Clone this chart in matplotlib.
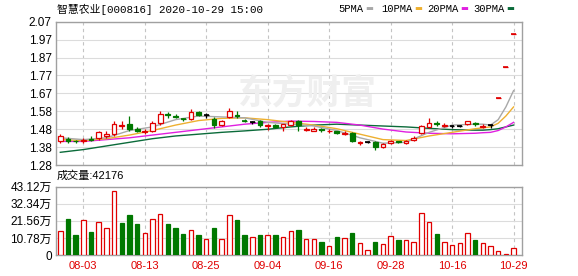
import matplotlib.pyplot as plt
import numpy as np

# fonts: latin first, CJK as fallback
sans = ['Liberation Sans', 'Noto Sans CJK SC']
mono = ['Liberation Mono', 'Noto Sans CJK SC']

# daily candles (price, yuan)
opens = [1.41, 1.425, 1.415, 1.41, 1.425, 1.43, 1.44, 1.45, 1.495, 1.505,
         1.48, 1.46, 1.47, 1.51, 1.56, 1.552, 1.535, 1.535, 1.57, 1.555,
         1.535, 1.50, 1.545, 1.555, 1.527, 1.519, 1.52, 1.495, 1.50, 1.488,
         1.50, 1.525, 1.475, 1.47, 1.48, 1.465, 1.465, 1.45, 1.455, 1.40,
         1.405, 1.405, 1.378, 1.40, 1.41, 1.40, 1.42, 1.455, 1.49, 1.51,
         1.495, 1.495, 1.497, 1.505, 1.51, 1.49, 1.50, 1.65, 1.82, 2.00]
highs = [1.45, 1.435, 1.42, 1.43, 1.44, 1.47, 1.465, 1.52, 1.52, 1.55,
         1.49, 1.48, 1.52, 1.58, 1.57, 1.56, 1.54, 1.59, 1.575, 1.565,
         1.545, 1.53, 1.595, 1.58, 1.535, 1.525, 1.53, 1.505, 1.505, 1.505,
         1.53, 1.53, 1.49, 1.49, 1.485, 1.48, 1.47, 1.465, 1.46, 1.415,
         1.41, 1.41, 1.40, 1.42, 1.415, 1.42, 1.44, 1.50, 1.54, 1.52,
         1.51, 1.50, 1.50, 1.525, 1.515, 1.505, 1.505, 1.65, 1.82, 2.00]
lows = [1.40, 1.40, 1.40, 1.40, 1.41, 1.42, 1.43, 1.44, 1.48, 1.47,
        1.46, 1.45, 1.46, 1.50, 1.54, 1.54, 1.525, 1.53, 1.55, 1.54,
        1.485, 1.495, 1.54, 1.54, 1.515, 1.505, 1.49, 1.475, 1.485, 1.47,
        1.495, 1.47, 1.465, 1.465, 1.462, 1.458, 1.45, 1.445, 1.405, 1.39,
        1.40, 1.365, 1.375, 1.395, 1.40, 1.395, 1.415, 1.45, 1.485, 1.495,
        1.49, 1.485, 1.49, 1.50, 1.495, 1.485, 1.485, 1.65, 1.82, 2.00]
closes = [1.44, 1.41, 1.41, 1.42, 1.42, 1.46, 1.45, 1.505, 1.50, 1.48,
          1.47, 1.47, 1.51, 1.56, 1.553, 1.547, 1.532, 1.572, 1.556, 1.555,
          1.50, 1.52, 1.575, 1.55, 1.524, 1.519, 1.50, 1.50, 1.49, 1.505,
          1.525, 1.50, 1.48, 1.48, 1.472, 1.47, 1.457, 1.455, 1.41, 1.405,
          1.405, 1.38, 1.395, 1.41, 1.405, 1.415, 1.43, 1.495, 1.51, 1.505,
          1.50, 1.495, 1.497, 1.52, 1.505, 1.495, 1.50, 1.65, 1.82, 2.00]

# volume in 万, 1 = red (up) bar, 0 = green
volumes = [15.1, 22.7, 12.6, 22.1, 14.5, 20.8, 16.8, 40.4, 20.4, 25.2,
           19.6, 13.9, 22.5, 25.9, 19.6, 17.0, 13.3, 15.8, 12.6, 10.1,
           17.0, 10.1, 25.2, 22.1, 12.6, 11.4, 12.6, 12.6, 12.6, 11.4,
           15.4, 15.8, 10.3, 10.3, 8.2, 5.7, 11.4, 10.7, 13.9, 7.6,
           3.2, 8.2, 6.9, 11.8, 9.5, 9.5, 8.2, 26.5, 20.8, 13.3,
           8.2, 6.3, 7.6, 13.9, 9.5, 7.6, 5.7, 2.5, 0.4, 4.2176]
vol_up = [1, 0, 0, 1, 0, 1, 1, 1, 0, 0,
          0, 1, 1, 1, 0, 0, 0, 1, 0, 1,
          0, 1, 1, 0, 0, 1, 0, 1, 0, 1,
          1, 0, 1, 1, 0, 1, 0, 1, 0, 1,
          1, 0, 1, 1, 0, 1, 1, 1, 1, 0,
          1, 1, 1, 1, 0, 1, 1, 1, 1, 1]

# moving averages
ma_idx = [0, 3, 6, 9, 12, 15, 18, 21, 24, 27, 30, 33, 36, 39, 42, 45, 48, 51, 54, 55, 56, 57, 58, 59]
ma5 = [1.43, 1.42, 1.43, 1.47, 1.49, 1.53, 1.55, 1.545, 1.54, 1.515, 1.505, 1.495,
       1.47, 1.43, 1.40, 1.405, 1.46, 1.50, 1.505, 1.505, 1.50, 1.53, 1.60, 1.69]
ma10 = [1.42, 1.415, 1.425, 1.445, 1.47, 1.50, 1.525, 1.537, 1.54, 1.53, 1.515, 1.50,
        1.48, 1.45, 1.42, 1.415, 1.44, 1.46, 1.48, 1.485, 1.49, 1.51, 1.55, 1.60]
ma20 = [1.41, 1.41, 1.42, 1.43, 1.445, 1.46, 1.475, 1.49, 1.505, 1.515, 1.522, 1.52,
        1.515, 1.50, 1.478, 1.462, 1.455, 1.452, 1.455, 1.458, 1.46, 1.47, 1.49, 1.515]
ma30 = [1.35, 1.365, 1.385, 1.405, 1.425, 1.44, 1.45, 1.46, 1.468, 1.477, 1.49, 1.50,
        1.505, 1.50, 1.495, 1.49, 1.482, 1.475, 1.472, 1.472, 1.475, 1.48, 1.49, 1.50]

date_idx = [3, 11, 19, 27, 35, 43, 51, 59]
date_labels = ['08-03', '08-13', '08-25', '09-04', '09-16', '09-28', '10-16', '10-29']
price_ticks = ['1.28', '1.38', '1.48', '1.58', '1.67', '1.77', '1.87', '1.97', '2.07']
vol_ticks = ['0', '10.78万', '21.56万', '32.34万', '43.12万']

RED = '#e00000'
GREEN = '#007800'
W, H = 578, 276

fig = plt.figure(figsize=(W / 100, H / 100), dpi=100)
ax = fig.add_axes([56 / W, 1 - 165 / H, 466 / W, 143.3 / H])
axv = fig.add_axes([56 / W, 1 - 255 / H, 466 / W, 68.3 / H])

x = np.arange(len(closes))
o = np.array(opens); c = np.array(closes); h = np.array(highs); l = np.array(lows)

# candle colours
cols = []
for i in range(len(x)):
    if c[i] > o[i]:
        cols.append(RED)
    elif c[i] < o[i]:
        cols.append(GREEN)
    elif h[i] == l[i]:
        cols.append(RED)
    else:
        cols.append('black')

ax.vlines(x, l, h, colors=cols, lw=0.9, zorder=3)
body_w = 0.62
faces = ['white' if col == RED else col for col in cols]
height = np.abs(c - o)
ax.bar(x, np.where(height < 0.004, 0.0, height), bottom=np.minimum(o, c), width=body_w,
       facecolor=faces, edgecolor=cols, lw=0.9, zorder=4)
flat = height < 0.004
ax.hlines(c[flat], x[flat] - body_w / 2, x[flat] + body_w / 2, colors=np.array(cols)[flat], lw=1.2, zorder=4)

ax.plot(ma_idx, ma30, color='#0b6b3a', lw=1.0, zorder=2)
ax.plot(ma_idx, ma20, color='#e020e0', lw=1.0, zorder=2)
ax.plot(ma_idx, ma10, color='#eeb030', lw=1.0, zorder=2)
ax.plot(ma_idx, ma5, color='#a8a8a8', lw=1.0, zorder=2)

# volume bars
vcol = [RED if u else GREEN for u in vol_up]
vface = ['white' if u else GREEN for u in vol_up]
axv.bar(x, volumes, width=0.58, facecolor=vface, edgecolor=vcol, lw=0.9, zorder=3)

vmax = 43.12
ymin, ymax = 1.28, 2.07
ax.set_ylim(ymin, ymax)
ax.set_yticks(np.linspace(ymin, ymax, 9))
ax.set_yticklabels(price_ticks)
axv.set_ylim(0, vmax)
axv.set_yticks(np.linspace(0, vmax, 5))
axv.set_yticklabels(vol_ticks)

for a in (ax, axv):
    a.set_xlim(-0.56, 60.1)
    a.set_xticks(date_idx)
    a.grid(axis='y', color='#dcdcdc', lw=0.8, ls='-')
    a.grid(axis='x', color='#c4c4c4', lw=0.8, ls=(0, (3, 3)))
    a.set_axisbelow(True)
    a.tick_params(length=0, pad=3)
    for s in a.spines.values():
        s.set_color('#a0a0a0')
        s.set_linewidth(1.0)
    for t in a.get_yticklabels():
        t.set_family(sans)
        t.set_fontsize(8.5)

ax.set_xticklabels([])
axv.set_xticklabels(date_labels, color=RED, fontsize=8, family=sans)
axv.tick_params(axis='x', pad=4)

# watermark
ax.text(0.54, 0.5, '东方财富', transform=ax.transAxes, ha='center', va='center',
        fontsize=25, fontweight='bold', color='#efefef', family='Noto Sans CJK SC', zorder=1)

# title, legend, volume label
fig.text(57 / W, 1 - 9 / H, '智慧农业[000816] 2020-10-29 15:00', ha='left', va='center',
         fontsize=7.8, family=mono)
legend = [('5PMA', '#a8a8a8', 338), ('10PMA', '#eeb030', 381), ('20PMA', '#e020e0', 427), ('30PMA', '#0b6b3a', 473)]
for name, col, px in legend:
    t = fig.text(px / W, 1 - 9 / H, name, ha='left', va='center', fontsize=7.6, family=mono)
    fig.text((px + len(name) * 6.3 + 2) / W, 1 - 9 / H, '▬', ha='left', va='center',
             fontsize=6, color=col, family='DejaVu Sans')
fig.text(57 / W, 1 - 176 / H, '成交量:42176', ha='left', va='center', fontsize=8, family=sans)

fig.savefig('out.png', dpi=100)
